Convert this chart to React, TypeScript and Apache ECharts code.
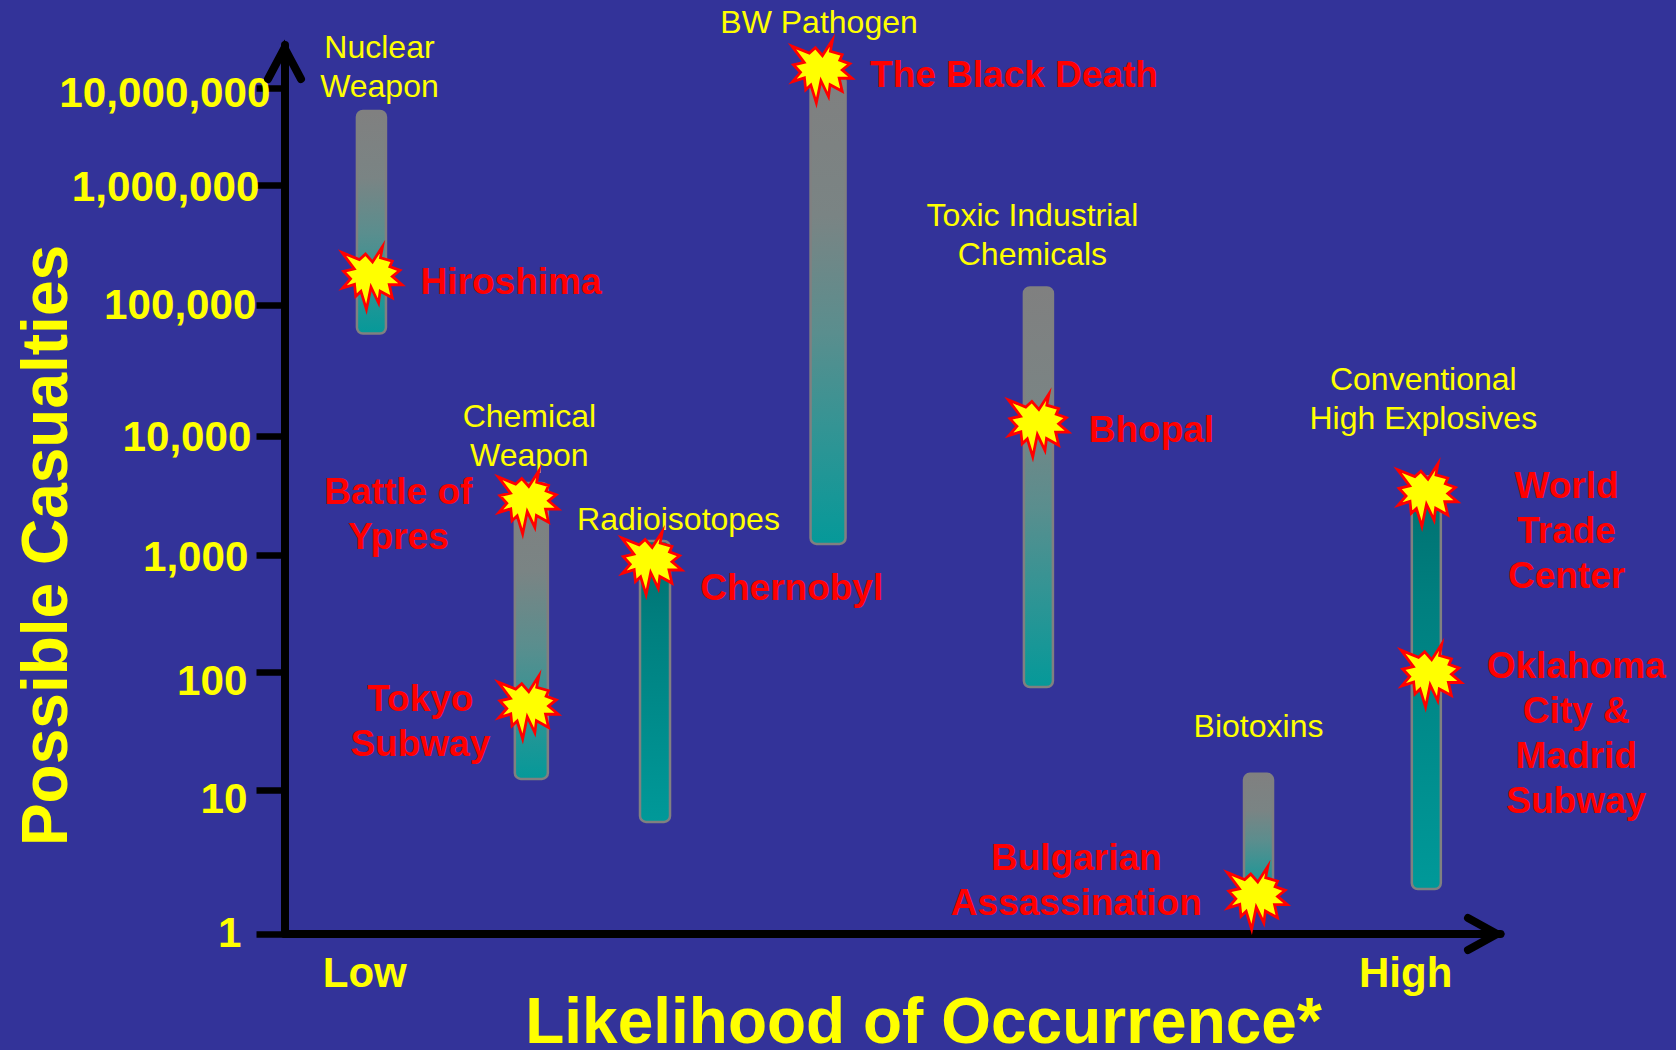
import React, { useEffect, useRef } from "react";
import * as echarts from "echarts";

const tickLabels = ["1", "10", "100", "1,000", "10,000", "100,000", "1,000,000", "10,000,000"];
// The source axis is log-like but unevenly spaced: height of each tick on the drawn axis.
const tickHeights = [0, 144, 262, 379, 498, 629, 749, 846];

const weaponNames = ["Nuclear\nWeapon", "Chemical\nWeapon", "Radioisotopes", "BW Pathogen", "Toxic Industrial\nChemicals", "Biotoxins", "Conventional\nHigh Explosives"];
const weaponLikelihood = [7.15, 20.3, 30.47, 44.7, 62, 80.1, 93.9];
const weaponLow = [60500, 12.4, 6, 1240, 74.6, 1.8, 2.05];
const weaponHigh = [5800000, 4030, 1310, 13600000, 140000, 13.7, 4600];

const eventNames = ["Hiroshima", "Battle of\nYpres", "Tokyo\nSubway", "Chernobyl", "The Black Death", "Bhopal", "Bulgarian\nAssassination", "World\nTrade\nCenter", "Oklahoma\nCity &\nMadrid\nSubway"];
const eventLikelihood = [7.2, 20.05, 20.05, 30.2, 44.2, 62, 80, 94, 94.3];
const eventCasualties = [168000, 2770, 50, 850, 14800000, 12050, 1.78, 3190, 93];

const xAxisLabels = ["Low", "High"];
const xAxisLabelPositions = [6.6, 92.2];

// Styling and layout (pixels), kept apart from the data
const FONT = '"Liberation Sans", Arial, sans-serif';
const GRID = { left: 284.5, top: 45, width: 1216, height: 889 };
const AXIS_MAX = 889;
const barWidths = [29, 33, 30, 35, 29, 29, 29];
const barGradients = [
  [[0, "#808080"], [0.3, "#7a8484"], [0.55, "#5a8e8e"], [0.75, "#349494"], [1, "#059999"]],
  [[0, "#006f6f"], [0.3, "#007f7f"], [1, "#009999"]],
];
const barGradientIndex = [0, 0, 1, 0, 0, 0, 1];
const weaponLabelOffsets: [number, number][] = [[8, -44], [-2, -47], [23.5, -22], [-9, -53], [-6, -53], [0, -48], [-3, -78]];
const eventLabelOffsets: [number, number][] = [[139, 4], [-130, 12], [-108, 13], [140, 24], [192, 3], [113, 4], [-181, -18], [139, 35], [145, 57]];
const tickLabelShift = [ // [right inset, downward shift]
  [29, -2], [23, 8], [23, 8], [22, 1], [19, 0], [14, -1], [11, 1], [0, 4],
];
const STAR = "path://M188,72 L181,109 L220,120 L212,138 L245,150 L220,170 L252,197 L210,197 L220,240 L180,218 L175,257 L150,205 L135,278 L117,219 L100,235 L96,196 L57,208 L83,178 L60,153 L95,145 L55,92 L112,115 L132,97 L155,123 Z";

function toAxis(v: number): number {
  const d = Math.log10(v);
  const i = Math.max(0, Math.min(tickHeights.length - 2, Math.floor(d)));
  return tickHeights[i] + (d - i) * (tickHeights[i + 1] - tickHeights[i]);
}

export default function App() {
  const ref = useRef<HTMLDivElement>(null);
  useEffect(() => {
    document.body.style.margin = "0";
    document.body.style.background = "#333399";
    const chart = echarts.init(ref.current!, undefined, { renderer: "svg" });
    const rich: Record<string, any> = {};
    tickLabels.forEach((_, i) => {
      const [inset, down] = tickLabelShift[i];
      rich["t" + i] = {
        color: "#ffff00", fontFamily: FONT, fontWeight: "bold", fontSize: 42.2,
        padding: [Math.max(0, 2 * down), inset, Math.max(0, -2 * down), 0],
      };
    });
    chart.setOption({
      animation: false,
      backgroundColor: "#333399",
      grid: { ...GRID, containLabel: false, outerBoundsMode: "none" },
      xAxis: {
        type: "value", min: 0, max: 100, splitLine: { show: false },
        axisLine: { show: true, onZero: false, lineStyle: { color: "#000", width: 8 } },
        axisTick: { show: false },
        axisLabel: {
          customValues: xAxisLabelPositions, margin: 17,
          color: "#ffff00", fontFamily: FONT, fontWeight: "bold", fontSize: 42,
          formatter: (v: number) => xAxisLabels[xAxisLabelPositions.indexOf(v)] ?? "",
        },
        name: "Likelihood of Occurrence*", nameLocation: "middle", nameGap: 55, nameMoveOverlap: false,
        nameTextStyle: { color: "#ffff00", fontFamily: FONT, fontWeight: "bold", fontSize: 64, padding: [0, 0, 0, 62] },
      },
      yAxis: {
        type: "value", min: 0, max: AXIS_MAX, splitLine: { show: false },
        axisLine: { show: true, onZero: false, lineStyle: { color: "#000", width: 8 } },
        axisTick: { show: true, customValues: tickHeights, length: 28, lineStyle: { color: "#000", width: 6.5 } },
        axisLabel: {
          customValues: tickHeights, margin: 14,
          formatter: (v: number) => {
            const i = tickHeights.indexOf(v);
            return i < 0 ? "" : `{t${i}|${tickLabels[i]}}`;
          },
          rich,
        },
        name: "Possible Casualties", nameLocation: "middle", nameGap: 208, nameMoveOverlap: false,
        nameTextStyle: { color: "#ffff00", fontFamily: FONT, fontWeight: "bold", fontSize: 64, padding: [0, 112, 0, 0] },
      },
      graphic: [
        { type: "polyline", z: 100, shape: { points: [[268, 79], [284.5, 48], [301, 79]] }, style: { stroke: "#000", lineWidth: 8, fill: "none", lineCap: "round", lineJoin: "miter" } },
        { type: "polyline", z: 100, shape: { points: [[1468, 918], [1497, 934], [1468, 950]] }, style: { stroke: "#000", lineWidth: 8, fill: "none", lineCap: "round", lineJoin: "miter" } },
      ],
      series: [
        {
          type: "custom", z: 2,
          data: weaponNames.map((_, i) => [weaponLikelihood[i], toAxis(weaponLow[i]), toAxis(weaponHigh[i]), i]),
          encode: { x: 0, y: [1, 2] },
          renderItem: (_: any, api: any) => {
            const i = api.value(3);
            const lo = api.coord([api.value(0), api.value(1)]);
            const hi = api.coord([api.value(0), api.value(2)]);
            const w = barWidths[i];
            return {
              type: "rect",
              shape: { x: lo[0] - w / 2, y: hi[1], width: w, height: lo[1] - hi[1], r: 6 },
              style: {
                fill: new echarts.graphic.LinearGradient(0, 0, 0, 1,
                  barGradients[barGradientIndex[i]].map(([offset, color]) => ({ offset, color }))),
                stroke: "#808080", lineWidth: 2.5,
              },
            };
          },
        },
        {
          type: "custom", z: 3,
          data: weaponNames.map((_, i) => [weaponLikelihood[i], toAxis(weaponHigh[i]), i]),
          encode: { x: 0, y: 1 },
          renderItem: (_: any, api: any) => {
            const i = api.value(2);
            const p = api.coord([api.value(0), api.value(1)]);
            const [dx, dy] = weaponLabelOffsets[i];
            return {
              type: "text", x: p[0] + dx, y: p[1] + dy,
              style: {
                text: weaponNames[i], fill: "#ffff00", font: `32px ${FONT}`,
                align: "center", verticalAlign: "middle", lineHeight: 39,
              },
            };
          },
        },
        {
          type: "scatter", z: 4,
          symbol: STAR, symbolSize: [60, 63],
          itemStyle: { color: "#ffff00", borderColor: "#ff0000", borderWidth: 2.8, borderMiterLimit: 20, opacity: 1 },
          data: eventNames.map((n, i) => ({
            value: [eventLikelihood[i], toAxis(eventCasualties[i])],
            name: n,
            label: {
              show: true, formatter: n, position: "inside", offset: eventLabelOffsets[i],
              color: "#ff0000", fontFamily: FONT, fontWeight: "bold", fontSize: 37,
              lineHeight: 45, align: "center", verticalAlign: "middle",
            },
          })),
        },
      ],
    });
    return () => chart.dispose();
  }, []);
  return <div ref={ref} style={{ width: 1676, height: 1050 }} />;
}
